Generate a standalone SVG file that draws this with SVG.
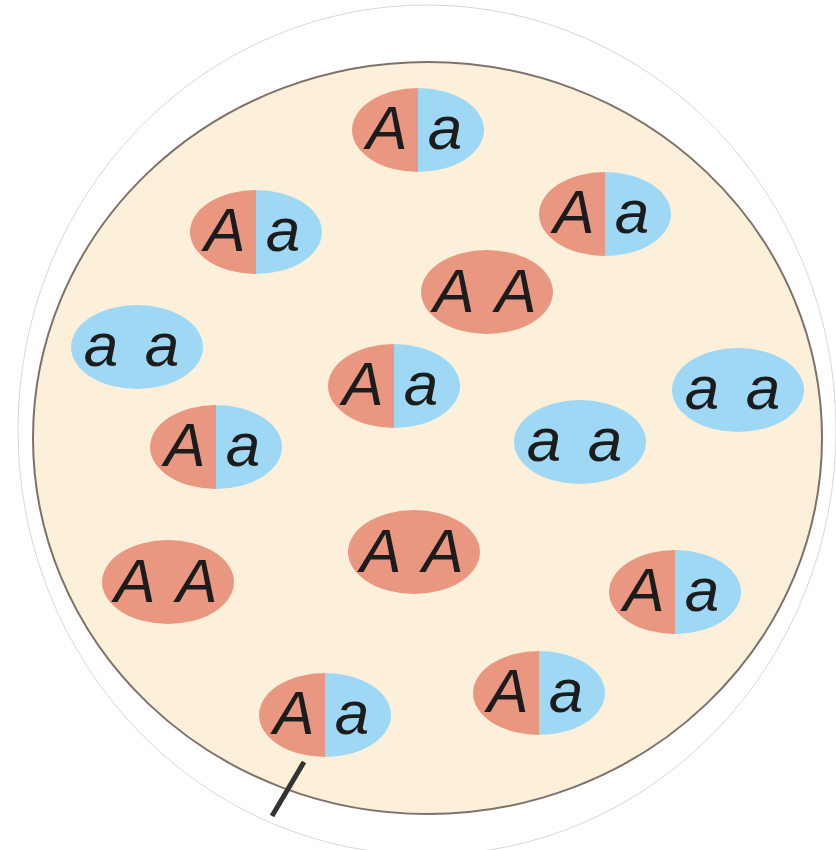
<svg xmlns="http://www.w3.org/2000/svg" xmlns:xlink="http://www.w3.org/1999/xlink" width="836" height="850" viewBox="0 0 836 850">
<style>
.t{font-family:"Liberation Sans",Arial,sans-serif;font-style:italic;font-size:62px;fill:#1c1c1c;text-anchor:middle}
.r{fill:#EA9782}
.b{fill:#9FD8F5}
</style>
<defs>
<path id="L" d="M0,-42 A66,42 0 0 0 0,42 Z"/>
<path id="R" d="M0,-42 A66,42 0 0 1 0,42 Z"/>
<g id="Aa"><use xlink:href="#L" class="r"/><use xlink:href="#R" class="b"/><text class="t" x="-31" y="19">A</text><text class="t" x="27" y="19">a</text></g>
<g id="AA"><ellipse class="r" rx="66" ry="42"/><text class="t" x="-33" y="20">A</text><text class="t" x="29" y="20">A</text></g>
<g id="aa"><ellipse class="b" rx="66" ry="42"/><text class="t" x="-36" y="19">a</text><text class="t" x="25" y="19">a</text></g>
</defs>
<rect width="836" height="850" fill="#ffffff"/>
<ellipse cx="427" cy="430" rx="409" ry="425" fill="none" stroke="#d8d8d8" stroke-width="1"/>
<ellipse id="population" cx="427.5" cy="438" rx="394.5" ry="376" fill="#FDF0DB" stroke="#7d726b" stroke-width="2"/>
<g id="nodes">
<g id="n1"><use xlink:href="#Aa" x="418" y="130"/></g>
<g id="n2"><use xlink:href="#Aa" x="256" y="232"/></g>
<g id="n3"><use xlink:href="#Aa" x="605" y="214"/></g>
<g id="n4"><use xlink:href="#AA" x="487" y="292"/></g>
<g id="n5"><use xlink:href="#aa" x="137" y="347"/></g>
<g id="n6"><use xlink:href="#Aa" x="394" y="386"/></g>
<g id="n7"><use xlink:href="#aa" x="738" y="390"/></g>
<g id="n8"><use xlink:href="#Aa" x="216" y="447"/></g>
<g id="n9"><use xlink:href="#aa" x="580" y="442"/></g>
<g id="n10"><use xlink:href="#AA" x="414" y="552"/></g>
<g id="n11"><use xlink:href="#AA" x="168" y="582"/></g>
<g id="n12"><use xlink:href="#Aa" x="675" y="592"/></g>
<g id="n13"><use xlink:href="#Aa" x="539" y="693"/></g>
<g id="n14"><use xlink:href="#Aa" x="325" y="715"/></g>
</g>
<g id="connectors">
<line x1="304" y1="762" x2="272" y2="816" stroke="#333333" stroke-width="5"/>
</g>
</svg>
